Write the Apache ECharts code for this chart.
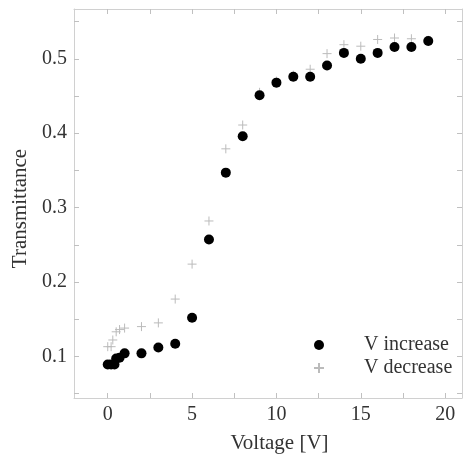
<!DOCTYPE html>
<html>
<head>
<meta charset="utf-8">
<script src="https://cdn.jsdelivr.net/npm/echarts@6/dist/echarts.min.js"></script>
<style>html,body{margin:0;padding:0;background:#fff}#c{width:465px;height:459px}</style>
</head>
<body>
<div id="c"></div>
<script>
var seriesNames = ['V increase', 'V decrease'];
var incX = [0, 0.2, 0.4, 0.5, 0.7, 1, 2, 3, 4, 5, 6, 7, 8, 9, 10, 11, 12, 13, 14, 15, 16, 17, 18, 19];
var incY = [0.089, 0.089, 0.089, 0.097, 0.098, 0.104, 0.104, 0.112, 0.117, 0.152, 0.257, 0.347, 0.396, 0.451, 0.468, 0.476, 0.476, 0.491, 0.508, 0.500, 0.508, 0.516, 0.516, 0.524];
var decX = [0, 0.2, 0.3, 0.5, 0.7, 1, 2, 3, 4, 5, 6, 7, 8, 9, 10, 11, 12, 13, 14, 15, 16, 17, 18, 19];
var decY = [0.113, 0.113, 0.122, 0.133, 0.136, 0.138, 0.140, 0.145, 0.177, 0.224, 0.282, 0.379, 0.411, 0.455, 0.470, 0.478, 0.486, 0.507, 0.519, 0.517, 0.526, 0.528, 0.527, 0.525];
var xTickLabels = [0, 5, 10, 15, 20];
var xTicks = [0, 2.5, 5, 7.5, 10, 12.5, 15, 17.5, 20];
var yTickLabels = [0.1, 0.2, 0.3, 0.4, 0.5];
var yTicks = [0.05, 0.1, 0.15, 0.2, 0.25, 0.3, 0.35, 0.4, 0.45, 0.5, 0.55];

function pairs(xs, ys) { return xs.map(function (x, i) { return [x, ys[i]]; }); }

var FONT = '"Liberation Serif", "Times New Roman", serif';
var lineStyle = { color: '#d0d0d0', width: 1 };
var tickStyle = { show: true, inside: true, length: 5, lineStyle: { color: '#c0c0c0', width: 1 } };

function xAx(pos, showLabel) {
  return {
    type: 'value', position: pos, min: -2, max: 21,
    axisLine: { show: true, onZero: false, lineStyle: lineStyle },
    axisTick: Object.assign({}, tickStyle, { customValues: xTicks }),
    axisLabel: { show: showLabel, customValues: xTickLabels, color: '#333', fontFamily: FONT, fontSize: 20, margin: 7 },
    splitLine: { show: false },
    name: showLabel ? 'Voltage [V]' : '',
    nameLocation: 'middle', nameGap: 35,
    nameTextStyle: { color: '#333', fontFamily: FONT, fontSize: 21, padding: [0, 0, 0, 23] }
  };
}
function yAx(pos, showLabel) {
  return {
    type: 'value', position: pos, min: 0.044, max: 0.567,
    axisLine: { show: true, onZero: false, lineStyle: lineStyle },
    axisTick: Object.assign({}, tickStyle, { customValues: yTicks }),
    axisLabel: { show: showLabel, customValues: yTickLabels, color: '#333', fontFamily: FONT, fontSize: 20, margin: 7,
      formatter: function (v) { return v.toFixed(1); } },
    splitLine: { show: false },
    name: showLabel ? 'Transmittance' : '',
    nameLocation: 'middle', nameGap: 35,
    nameTextStyle: { color: '#333', fontFamily: FONT, fontSize: 21, padding: [0, 10, 0, 0] }
  };
}

var chart = echarts.init(document.getElementById('c'), null, { renderer: 'canvas' });
chart.setOption({
  animation: false,
  backgroundColor: '#fff',
  grid: { left: 74, top: 9, right: 3, bottom: 60, containLabel: false },
  xAxis: [xAx('bottom', true), xAx('top', false)],
  yAxis: [yAx('left', true), yAx('right', false)],
  legend: {
    orient: 'vertical', left: 308, top: 327,
    itemWidth: 10, itemHeight: 10, itemGap: -3,
    data: seriesNames,
    textStyle: { color: '#333', fontFamily: FONT, fontSize: 20, lineHeight: 20, padding: [6, 0, 0, 35] }
  },
  series: [
    {
      name: seriesNames[0], type: 'scatter', z: 3,
      symbol: 'circle', symbolSize: 10,
      itemStyle: { color: '#000', opacity: 1 },
      data: pairs(incX, incY)
    },
    {
      name: seriesNames[1], type: 'scatter', z: 2,
      symbol: 'path://M0,-5L0,5M-5,0L5,0', symbolSize: 9,
      itemStyle: { color: 'rgba(0,0,0,0)', borderColor: '#bbbbbb', borderWidth: 1, opacity: 1 },
      data: pairs(decX, decY)
    }
  ]
});
</script>
</body>
</html>
